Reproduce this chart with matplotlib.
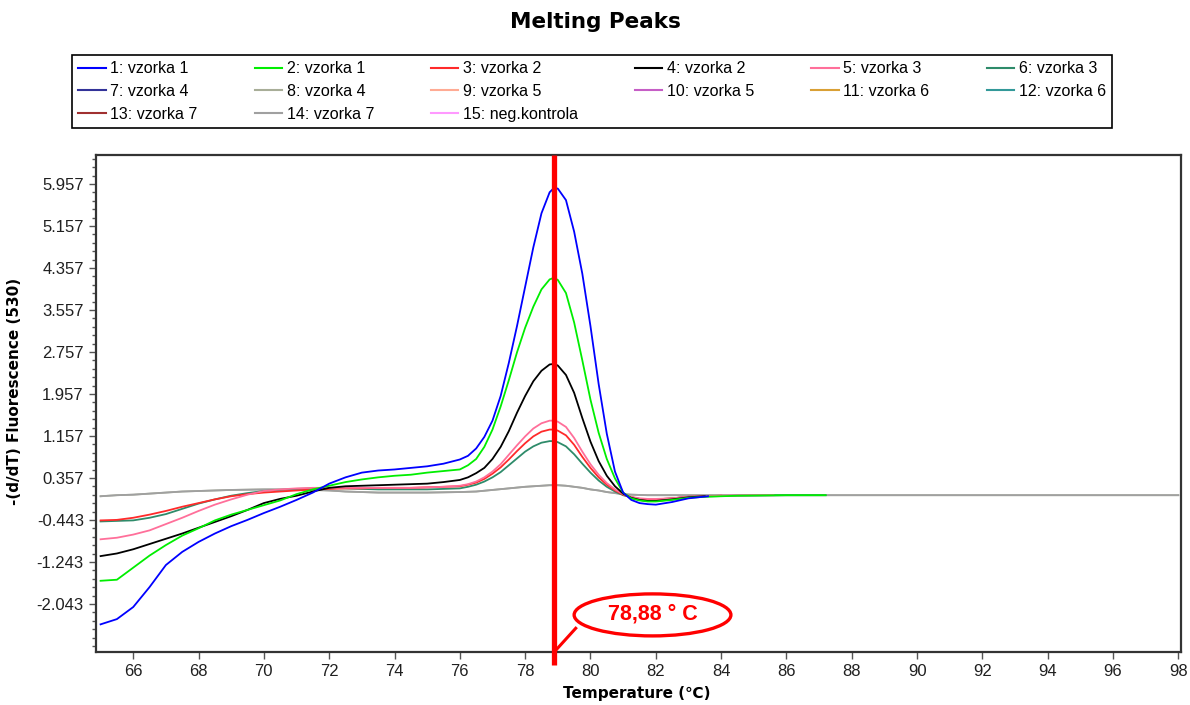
import numpy as np
import matplotlib
matplotlib.use('Agg')
import matplotlib.pyplot as plt
from matplotlib.patches import Ellipse
from matplotlib.lines import Line2D

# temperature grid shared by the sample curves (deg C)
temp = [65.0, 65.5, 66.0, 66.5, 67.0, 67.5, 68.0, 68.5, 69.0, 69.5, 70.0, 70.5,
        71.0, 71.5, 72.0, 72.5, 73.0, 73.5, 74.0, 74.5, 75.0, 75.5, 76.0,
        76.25, 76.5, 76.75, 77.0, 77.25, 77.5, 77.75, 78.0, 78.25, 78.5, 78.75,
        78.88, 79.0, 79.25, 79.5, 79.75, 80.0, 80.25, 80.5, 80.75, 81.0, 81.25,
        81.5, 81.75, 82.0, 82.5, 83.0]

# -(d/dT) fluorescence
s1 = [-2.43, -2.33, -2.10, -1.72, -1.30, -1.05, -0.86, -0.70, -0.56, -0.44, -0.31, -0.19,
      -0.06, 0.08, 0.25, 0.37, 0.46, 0.50, 0.52, 0.55, 0.58, 0.63, 0.71,
      0.78, 0.92, 1.14, 1.45, 1.92, 2.55, 3.25, 4.00, 4.75, 5.40, 5.80,
      5.88, 5.87, 5.65, 5.05, 4.25, 3.25, 2.15, 1.20, 0.48, 0.08, -0.06,
      -0.12, -0.14, -0.15, -0.10, -0.03]
s2 = [-1.60, -1.58, -1.35, -1.12, -0.92, -0.74, -0.60, -0.45, -0.34, -0.25, -0.16, -0.07,
      0.05, 0.14, 0.21, 0.28, 0.33, 0.37, 0.40, 0.42, 0.46, 0.49, 0.52,
      0.60, 0.72, 0.95, 1.28, 1.72, 2.22, 2.75, 3.22, 3.62, 3.95, 4.14,
      4.17, 4.13, 3.88, 3.32, 2.60, 1.85, 1.22, 0.72, 0.35, 0.08, -0.03,
      -0.07, -0.09, -0.09, -0.06, -0.02]
s3 = [-0.45, -0.44, -0.40, -0.34, -0.27, -0.19, -0.12, -0.05, 0.01, 0.05, 0.08, 0.10,
      0.12, 0.14, 0.15, 0.16, 0.16, 0.17, 0.17, 0.17, 0.18, 0.19, 0.20,
      0.23, 0.27, 0.34, 0.44, 0.56, 0.71, 0.87, 1.02, 1.15, 1.24, 1.28,
      1.28, 1.26, 1.17, 0.99, 0.76, 0.55, 0.37, 0.23, 0.12, 0.04, -0.01,
      -0.04, -0.05, -0.05, -0.03, 0.00]
s4 = [-1.13, -1.08, -1.00, -0.90, -0.80, -0.70, -0.59, -0.48, -0.37, -0.25, -0.12, -0.04,
      0.02, 0.10, 0.17, 0.20, 0.21, 0.22, 0.23, 0.24, 0.25, 0.28, 0.32,
      0.37, 0.45, 0.55, 0.72, 0.95, 1.25, 1.60, 1.92, 2.20, 2.40, 2.52,
      2.53, 2.50, 2.32, 1.98, 1.50, 1.05, 0.68, 0.40, 0.20, 0.06, -0.02,
      -0.06, -0.08, -0.08, -0.05, -0.01]
s5 = [-0.81, -0.78, -0.72, -0.64, -0.52, -0.40, -0.27, -0.15, -0.05, 0.04, 0.11, 0.14,
      0.16, 0.17, 0.17, 0.17, 0.17, 0.17, 0.17, 0.17, 0.18, 0.19, 0.21,
      0.24, 0.29, 0.37, 0.48, 0.62, 0.80, 0.98, 1.15, 1.30, 1.40, 1.45,
      1.45, 1.43, 1.33, 1.12, 0.86, 0.62, 0.42, 0.26, 0.14, 0.05, 0.00,
      -0.03, -0.04, -0.04, -0.03, 0.00]
s6 = [-0.47, -0.46, -0.45, -0.40, -0.33, -0.23, -0.13, -0.05, 0.02, 0.07, 0.11, 0.13,
      0.15, 0.16, 0.17, 0.16, 0.15, 0.14, 0.14, 0.14, 0.14, 0.15, 0.16,
      0.19, 0.23, 0.29, 0.37, 0.47, 0.60, 0.73, 0.86, 0.96, 1.03, 1.06,
      1.06, 1.04, 0.96, 0.81, 0.63, 0.46, 0.31, 0.19, 0.10, 0.03, -0.01,
      -0.04, -0.05, -0.05, -0.03, 0.00]
s14 = [0.01, 0.03, 0.04, 0.06, 0.08, 0.10, 0.11, 0.12, 0.13, 0.135, 0.14, 0.14,
       0.14, 0.13, 0.12, 0.10, 0.09, 0.08, 0.08, 0.08, 0.08, 0.085, 0.09,
       0.095, 0.10, 0.115, 0.13, 0.145, 0.16, 0.175, 0.19, 0.20, 0.21, 0.22,
       0.22, 0.22, 0.21, 0.19, 0.17, 0.14, 0.12, 0.09, 0.07, 0.05, 0.04,
       0.035, 0.03, 0.03, 0.03, 0.03]

# where each curve keeps going past 83 C
tail1_t, tail1 = [83.6], [0.01]
tail2_t, tail2 = [83.5, 84.5, 86.0, 87.2], [0.0, 0.02, 0.03, 0.03]
tail3_t, tail3 = [84.0], [0.02]
tail4_t, tail4 = [83.5], [0.01]
tail5_t, tail5 = [84.0, 85.0, 85.6], [0.02, 0.03, 0.03]
tail6_t, tail6 = [84.5, 86.0, 87.2], [0.02, 0.03, 0.03]
tail14_t, tail14 = [90.0, 98.0], [0.03, 0.03]

labels = ['1: vzorka 1', '2: vzorka 1', '3: vzorka 2', '4: vzorka 2', '5: vzorka 3',
          '6: vzorka 3', '7: vzorka 4', '8: vzorka 4', '9: vzorka 5', '10: vzorka 5',
          '11: vzorka 6', '12: vzorka 6', '13: vzorka 7', '14: vzorka 7',
          '15: neg.kontrola']
colors = ['#0000ff', '#00ee00', '#ff2a2a', '#000000', '#ff6f9a', '#2e8b6a',
          '#333399', '#a8ae98', '#ffab94', '#c65ec6', '#d9a035', '#339999',
          '#a03030', '#a0a0a0', '#ff99ff']

tm = 78.88  # melting peak

plt.rcParams['font.family'] = ['Liberation Sans', 'DejaVu Sans']

fig = plt.figure(figsize=(11.9, 7.05), dpi=100)
ax = fig.add_axes([0.0804, 0.0747, 0.912, 0.7054])

# curves drawn in back-to-front order
curves = [(7, s14, tail14_t, tail14), (13, s14, tail14_t, tail14),
          (5, s6, tail6_t, tail6), (2, s3, tail3_t, tail3),
          (4, s5, tail5_t, tail5), (3, s4, tail4_t, tail4),
          (1, s2, tail2_t, tail2), (0, s1, tail1_t, tail1)]
for idx, ys, tt, ty in curves:
    ax.plot(temp + tt, ys + ty, color=colors[idx], lw=1.3, zorder=3)

ymin, ymax = -2.963, 6.509
ax.set_xlim(64.85, 98.08)
ax.set_ylim(ymin, ymax)

# melting temperature marker
ax.plot([tm, tm], [ymin - 0.25, ymax], color='#ff0000', lw=3.8, clip_on=False,
        zorder=5, solid_capstyle='butt')
ax.plot([tm, tm + 0.7], [ymin, ymin + 0.48], color='#ff0000', lw=2.2, zorder=5,
        solid_capstyle='butt')
ax.add_patch(Ellipse((tm + 3.02, -2.25), 4.8, 0.8, facecolor='white',
                     edgecolor='#ff0000', lw=2.4, zorder=6))
ax.text(tm + 3.02, -2.23, '78,88 ° C', color='#ff0000', fontsize=15.5,
        fontweight='bold', ha='center', va='center', zorder=7)

yt = np.arange(-2.043, 6.0, 0.8)
ax.set_yticks(yt)
ax.set_yticklabels(['%.3f' % v for v in yt])
ax.set_yticks(np.arange(-2.843, 6.5, 0.16), minor=True)
ax.set_xticks(np.arange(66, 99, 2))
ax.tick_params(axis='both', which='major', labelsize=12, length=5, width=1,
               color='#555555', labelcolor='#202020')
ax.tick_params(axis='y', which='minor', length=3, width=1, color='#555555')
for sp in ax.spines.values():
    sp.set_linewidth(1.6)
    sp.set_color('#333333')

ax.set_ylabel('-(d/dT) Fluorescence (530)', family='DejaVu Sans',
              fontweight='bold', fontsize=11)
ax.yaxis.set_label_coords(-0.068, 0.525)
ax.set_xlabel('Temperature (℃)', family='DejaVu Sans', fontweight='bold',
              fontsize=11)
ax.xaxis.set_label_coords(0.499, -0.068)

fig.text(0.5, 0.969, 'Melting Peaks', family='DejaVu Sans', fontweight='heavy',
         fontsize=15.5, ha='center', va='center')

# legend, filled column by column the way matplotlib does it
handles = [Line2D([], [], color=c, lw=1.5) for c in colors]
order = [0, 6, 12, 1, 7, 13, 2, 8, 14, 3, 9, 4, 10, 5, 11]
leg = fig.legend([handles[i] for i in order], [labels[i] for i in order],
                 ncol=6, loc='upper left', bbox_to_anchor=(0.0605, 0.922, 0.874, 0.0),
                 mode='expand', fontsize=11.5, frameon=True, fancybox=False,
                 edgecolor='black', framealpha=1, handlelength=1.7,
                 handletextpad=0.3, labelspacing=0.48, borderaxespad=0,
                 borderpad=0.4)
leg.get_frame().set_linewidth(1.2)

fig.savefig('out.png', dpi=100)
